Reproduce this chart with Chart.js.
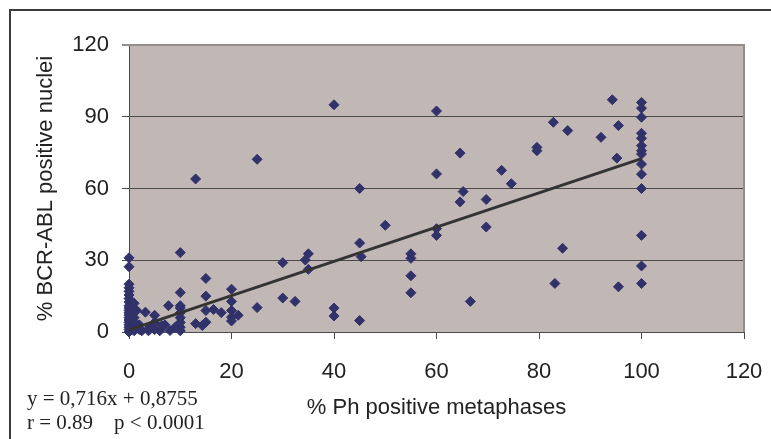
<!DOCTYPE html>
<html><head><meta charset="utf-8">
<script src="https://cdn.jsdelivr.net/npm/chart.js@4"></script>
<style>
html,body{margin:0;padding:0;background:#fff;}
#wrap{position:relative;width:771px;height:439px;overflow:hidden;}
#frame{position:absolute;left:9px;top:9px;width:800px;height:500px;border-top:2px solid #3c3c3c;border-left:2px solid #3c3c3c;}
canvas{position:absolute;left:0;top:0;}
#eq{position:absolute;left:27px;top:386px;font-family:"Liberation Serif","Times New Roman",serif;font-size:21px;line-height:24px;white-space:pre;color:#222;}
</style></head>
<body><div id="wrap"><div id="frame"></div><canvas id="c" width="771" height="439"></canvas>
<div id="eq">y = 0,716x + 0,8755
r = 0.89    p &lt; 0.0001</div></div>
<script>
// % Ph positive metaphases (x) and % BCR-ABL positive nuclei (y)
const phMetaphases = [
  0,0,0,0,0,0,0,0,0,0,0,0,0,0,0,0,0,0,0,0,
  1,1,1,1,1,1,1,1.5,2,2,
  2.5,3.2,3.8,4,5,5,5,6.4,6,7,7.7,8,9,10,10,10,10,10,10,10,10,10,
  13,13,14.3,15,15,15,15,16.5,18,20,20,20,20,20,21.3,25,25,
  30,30,32.4,34.4,35,35,40,40,40,45,45,45.3,45,
  50,55,55,55,55,60,60,60,60,64.6,65.2,64.6,66.6,69.7,69.7,72.7,74.6,
  79.6,79.6,82.8,83.1,84.6,85.6,92.1,94.3,95.2,95.5,95.5,
  100,100,100,100,100,100,100,100,100,100,100,100,100,100
];
const bcrAblNuclei = [
  31,27.3,20,18.5,17,15.5,14,12.5,11,10,9,8,7,6,5,4,3,2,1,0,
  12,10,8,6,4,2,0.5,9,3,1,
  0.5,8.3,0.5,2,7,4,1,2.7,0.5,3,11,0.6,2,0.5,2,4,6,8,10,11,16.5,33.2,
  64,3.5,2.7,22.4,15,9,4.1,9.4,8.1,17.9,12.8,9,6.2,4.6,7,72.2,10.2,
  29,14.2,12.8,30.1,32.7,26.2,95,10,6.7,60,37.2,31.5,4.8,
  44.6,32.7,30.8,23.5,16.4,92.4,66.1,43.2,40.4,74.8,58.7,54.4,12.8,55.4,43.9,67.6,62,
  77.2,75.8,87.7,20.3,35,84.2,81.4,97.1,72.7,86.3,18.9,
  96,93.6,89.8,83.1,81,77.9,75.8,74.4,70.2,66,60,40.4,27.6,20.3
];
// regression y = slope*x + intercept, drawn over the data range
const slope = 0.716;
const intercept = 0.8755;
const trendRange = [0, 100];
const xTicks = [0, 20, 40, 60, 80, 100, 120];
const yTicks = [0, 30, 60, 90, 120];

const points = phMetaphases.map((x, i) => ({x: x, y: bcrAblNuclei[i]}));
const trend = trendRange.map(x => ({x: x, y: slope * x + intercept}));

const plotBg = {
  id: 'plotBg',
  beforeDraw(chart) {
    const a = chart.chartArea, c = chart.ctx;
    c.save();
    c.fillStyle = '#c1b8b5';
    c.fillRect(a.left, a.top, a.right - a.left, a.bottom - a.top);
    c.restore();
  },
  beforeDatasetsDraw(chart) {
    const a = chart.chartArea, c = chart.ctx;
    c.save();
    c.strokeStyle = '#958d8b';
    c.lineWidth = 2;
    c.beginPath();
    c.moveTo(a.left, a.top);
    c.lineTo(a.right, a.top);
    c.lineTo(a.right, a.bottom);
    c.stroke();
    c.restore();
  }
};

const font = {family: '"Liberation Sans", Arial, sans-serif', size: 22};

new Chart(document.getElementById('c'), {
  type: 'scatter',
  data: {
    datasets: [
      {
        type: 'line', data: trend, borderColor: '#333333', borderWidth: 3,
        pointRadius: 0, fill: false, order: 0, clip: false
      },
      {
        data: points, pointStyle: 'rectRot', pointRadius: 5, pointHoverRadius: 5,
        backgroundColor: '#31326a', borderColor: '#31326a', borderWidth: 1,
        order: 1, clip: false
      }
    ]
  },
  options: {
    responsive: false,
    animation: false,
    layout: {padding: {top: 45, right: 27, left: 0, bottom: 0}},
    plugins: {legend: {display: false}, tooltip: {enabled: false}},
    scales: {
      x: {
        type: 'linear', min: 0, max: 120,
        afterBuildTicks: s => { s.ticks = xTicks.map(v => ({value: v})); },
        afterFit: s => { s.height = 107; s.paddingLeft = 0; s.paddingRight = 0; },
        grid: {drawOnChartArea: false, drawTicks: true, tickLength: 7, color: '#4a4a4a'},
        border: {color: '#4a4a4a', width: 1},
        ticks: {font: font, color: '#222', padding: 20, maxRotation: 0},
        title: {display: true, text: '% Ph positive metaphases', font: font, color: '#222', padding: {top: 0, bottom: 18}}
      },
      y: {
        type: 'linear', min: 0, max: 120,
        afterBuildTicks: s => { s.ticks = yTicks.map(v => ({value: v})); },
        afterFit: s => { s.width = 129; s.paddingTop = 0; s.paddingBottom = 0; },
        grid: {
          drawTicks: true, tickLength: 7,
          color: ctx => (ctx.tick && ctx.tick.value === 120) ? '#958d8b' : '#4a4a4a',
          lineWidth: ctx => (ctx.tick && ctx.tick.value === 120) ? 2 : 1
        },
        border: {color: '#4a4a4a', width: 1},
        ticks: {font: font, color: '#222', padding: 13},
        title: {display: true, text: '% BCR-ABL positive nuclei', font: font, color: '#222', padding: {top: 33, bottom: 0}}
      }
    }
  },
  plugins: [plotBg]
});
</script>
</body></html>
